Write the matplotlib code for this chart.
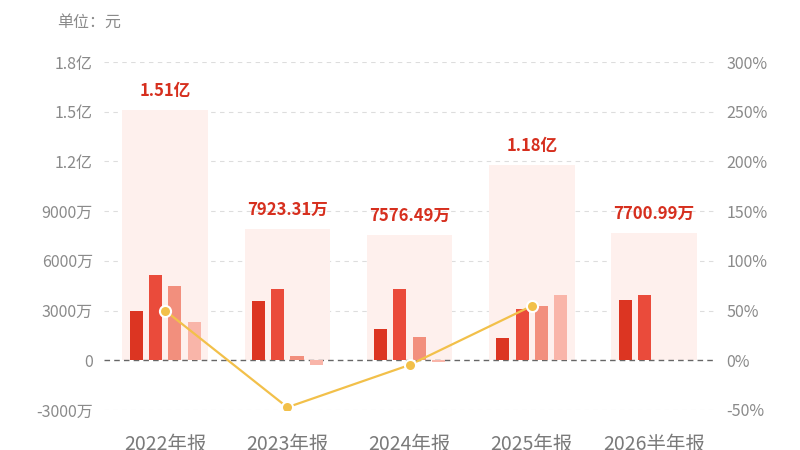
import numpy as np
import matplotlib
matplotlib.use('Agg')
import matplotlib.pyplot as plt
from matplotlib.ticker import FuncFormatter

plt.rcParams['font.family'] = ['Noto Sans CJK SC', 'DejaVu Sans']

# values in 万元
years = ['2022年报', '2023年报', '2024年报', '2025年报', '2026半年报']
totals = [15100, 7923.31, 7576.49, 11800, 7700.99]
total_labels = ['1.51亿', '7923.31万', '7576.49万', '1.18亿', '7700.99万']
s1 = [3000, 3560, 1900, 1320, 3640]
s2 = [5140, 4280, 4300, 3100, 3940]
s3 = [4460, 240, 1380, 3260, np.nan]
s4 = [2300, -260, -100, 3920, np.nan]
growth = [50, -47.3, -4.7, 54.7]  # %

bar_cols = ['#dc3522', '#ea4b3b', '#f28f7d', '#f9b5a9']
bgcol = '#fef0ed'
linecol = '#f2c04a'
txtcol = '#8a8a8a'

fig = plt.figure(figsize=(8, 4.5), dpi=100)
ax = fig.add_axes([0.13, 0.0889, 0.764, 0.7733])
ax2 = ax.twinx()

x = np.arange(len(years))
ax.bar(x, totals, width=0.7, color=bgcol, zorder=1)
for xi, t, lab in zip(x, totals, total_labels):
    ax.annotate(lab, (xi, t), xytext=(0, 7), textcoords='offset points',
                ha='center', va='bottom', color='#d62f1e', fontsize=12,
                fontweight='bold')

step = 0.158
for i, s in enumerate([s1, s2, s3, s4]):
    ax.bar(x + (i - 1.5) * step, s, width=0.107, color=bar_cols[i], zorder=3)

ax.set_xlim(-0.5, len(years) - 0.5)
ax.set_ylim(-3000, 18000)
ax.set_yticks(np.arange(-3000, 18001, 3000))

def fmt(v, pos):
    if v == 0:
        return '0'
    if abs(v) >= 10000:
        return f'{v / 10000:.1f}亿'
    return f'{int(v)}万'

ax.yaxis.set_major_formatter(FuncFormatter(fmt))
for yv in np.arange(-3000, 18001, 3000):
    if yv == 0:
        ax.axhline(0, color='#666666', lw=1, ls=(0, (4, 3)), zorder=2)
    else:
        ax.axhline(yv, color='#dddddd', lw=0.8, ls=(0, (4, 4)), zorder=0)

ax2.set_ylim(-50, 300)
ax2.set_yticks(np.arange(-50, 301, 50))
ax2.yaxis.set_major_formatter(FuncFormatter(lambda v, p: f'{int(v)}%'))
ax2.plot(x[:len(growth)], growth, color=linecol, lw=1.6, marker='o',
         markersize=8, markeredgecolor='white', markeredgewidth=1.5, zorder=5)

for a in (ax, ax2):
    for sp in a.spines.values():
        sp.set_visible(False)
    a.tick_params(length=0, colors=txtcol, labelsize=11.5)
ax.tick_params(axis='y', pad=8)
ax2.tick_params(axis='y', pad=8)
ax.set_xticks(x)
ax.set_xticklabels(years, fontsize=14, color='#7a7a7a')
ax.tick_params(axis='x', pad=17)

fig.text(57 / 800, 1 - 22 / 450, '单位：元', color=txtcol, fontsize=11.5,
         ha='left', va='center')

fig.savefig('out.png', dpi=100)
